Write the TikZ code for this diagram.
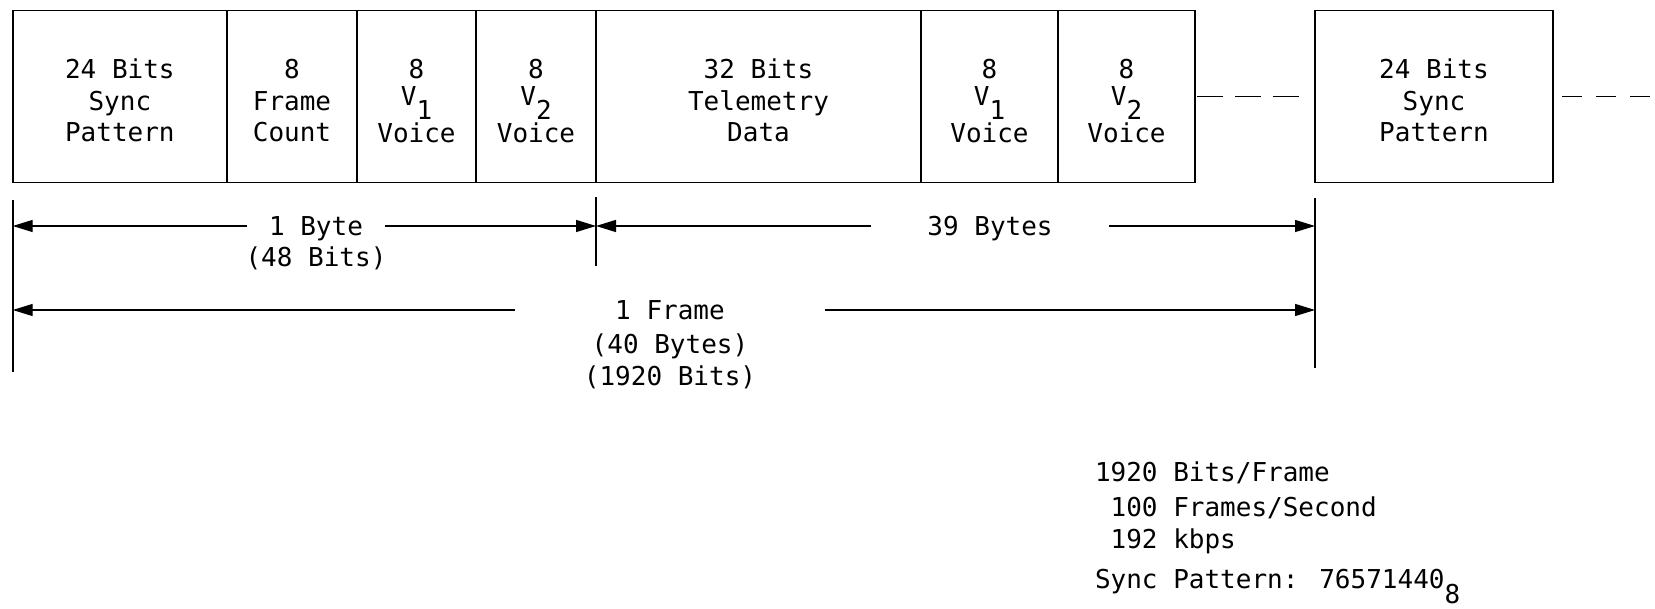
\documentclass[tikz,border=0pt]{standalone}
\usepackage{fontspec}
\setmainfont{DejaVu Sans Mono}
\usetikzlibrary{arrows.meta}
\newcommand\topfix{\rule{0pt}{14pt}}
\newcommand\lowr[2]{\raisebox{-#1}[0pt][0pt]{#2}}
\newcommand\vlabel[1]{\topfix 8\\[-2.25pt]V\lowr{7pt}{#1}\\[2.75pt]Voice}
\begin{document}
\begin{tikzpicture}[x=0.5pt,y=-0.5pt,
  every node/.style={font=\fontsize{13}{15.75}\selectfont, inner sep=0pt, outer sep=0pt},
  field/.style={draw, line width=0.9pt, minimum height=86pt, align=center},
  dim/.style={line width=0.7pt, {Triangle[length=10pt,width=6pt]}-{Triangle[length=10pt,width=6pt]}},
  lbl/.style={fill=white, inner ysep=2pt, anchor=base},
  sub/.style={anchor=base},
  guide/.style={line width=0.8pt},
  cont/.style={line width=0.9pt, dash pattern=on 13pt off 6pt},
  conttail/.style={line width=0.9pt, dash pattern=on 10pt off 7pt},
  info/.style={anchor=base west}
]
\useasboundingbox (0,0) rectangle (1655,609);

% frame fields
\node[field, minimum width=107.15pt] (sync)  at (119.85,96.5) {\topfix 24 Bits\\Sync\\Pattern};
\node[field, minimum width=65pt]     (count) at (292,96.5)    {\topfix 8\\Frame\\Count};
\node[field, minimum width=59.5pt]   (vonea) at (416.5,96.5)  {\vlabel{1}};
\node[field, minimum width=60pt]     (vtwoa) at (536,96.5)    {\vlabel{2}};
\node[field, minimum width=162.5pt]  (tele)  at (758.5,96.5)  {\topfix 32 Bits\\Telemetry\\Data};
\node[field, minimum width=68.5pt]   (voneb) at (989.5,96.5)  {\vlabel{1}};
\node[field, minimum width=68.5pt]   (vtwob) at (1126.5,96.5) {\vlabel{2}};
\node[field, minimum width=119pt]    (synctwo) at (1434,96.5) {\topfix 24 Bits\\Sync\\Pattern};

% continuation dashes
\coordinate (contend) at (1655,96.5);
\draw[cont] ([xshift=1pt]vtwob.east) -- ([xshift=-6.5pt]synctwo.west);
\draw[conttail] ([xshift=4.5pt]synctwo.east) -- (contend);

% extension lines
\coordinate (lt) at (12.7,200);  \coordinate (lb) at (12.7,372);
\coordinate (mt) at (596,197);   \coordinate (mb) at (596,266);
\coordinate (rt) at (1315,198);  \coordinate (rb) at (1315,368);
\draw[guide] (lt) -- (lb);
\draw[guide] (mt) -- (mb);
\draw[guide] (rt) -- (rb);

% row 1
\coordinate (aL) at (12.7,226);
\coordinate (aM) at (596,226);
\coordinate (aR) at (1315,226);
\draw[dim] (aL) -- (aM);
\draw[dim] (aM) -- (aR);
\node[lbl, inner xsep=11pt] (byte) at (316,235.5) {1 Byte};
\node[sub] (bytebits) at ([yshift=-15.75pt]byte.base) {(48 Bits)};
\node[lbl, inner xsep=28pt] (bytes) at (990,235.5) {39 Bytes};

% row 2
\coordinate (bL) at (12.7,310);
\coordinate (bR) at (1315,310);
\draw[dim] (bL) -- (bR);
\node[lbl, inner xsep=50pt] (frame) at (670,319.5) {1 Frame};
\node[sub] (framebytes) at ([yshift=-17pt]frame.base) {(40 Bytes)};
\node[sub] (framebits) at ([yshift=-16pt]framebytes.base) {(1920 Bits)};

% summary
\node[info] (bpf) at (1095,481.5) {1920 Bits/Frame};
\node[info] (fps) at (1095,516.5) {\hphantom{0}100 Frames/Second};
\node[info] (rate) at (1095,548.5) {\hphantom{0}192 kbps};
\node[info] (pat) at (1095,588) {Sync Pattern: 76571440\lowr{7.5pt}{8}};
\end{tikzpicture}
\end{document}
